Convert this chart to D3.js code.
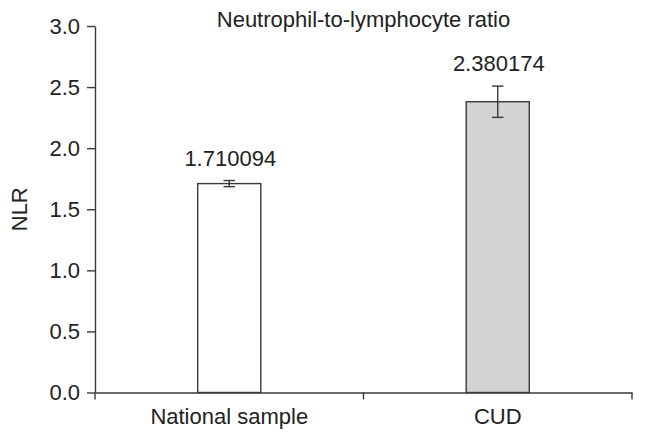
<!DOCTYPE html>
<html>
<head>
<meta charset="utf-8">
<script src="https://cdn.jsdelivr.net/npm/d3@7"></script>
<style>
  body { margin: 0; background: #fff; }
  svg text { font-family: "Liberation Sans", Arial, sans-serif; fill: #222; }
</style>
</head>
<body>
<div id="chart"></div>
<script>
// chart values
var groups = ["National sample", "CUD"];
var nlrMeans = [1.710094, 2.380174];
var nlrErrors = [0.025, 0.128];
var barLabels = ["1.710094", "2.380174"];
var yTicks = [0, 0.5, 1.0, 1.5, 2.0, 2.5, 3.0];
var barFills = ["#ffffff", "#d3d3d3"];

var chart = {
    svgWidth: 646,
    svgHeight: 441,
    margin: {"top": 26, "bottom": 48.5, "left": 95, "right": 14},
};
chart.chartWidth = chart.svgWidth - (chart.margin.left + chart.margin.right);
chart.chartHeight = chart.svgHeight - (chart.margin.top + chart.margin.bottom);

var data = groups.map((g, i) => ({
    group: g, mean: nlrMeans[i], err: nlrErrors[i],
    label: barLabels[i], fill: barFills[i]
}));

var svg = d3.select("#chart").append("svg")
    .attr("width", chart.svgWidth)
    .attr("height", chart.svgHeight);

var g = svg.append("g")
    .attr("transform", "translate(" + chart.margin.left + "," + chart.margin.top + ")");

var xScale = d3.scaleBand()
    .domain(groups)
    .range([0, chart.chartWidth])
    .padding(0);

var yScale = d3.scaleLinear()
    .domain([0, 3])
    .range([chart.chartHeight, 0]);

var barW = xScale.bandwidth() * 0.235;
var ink = "#3a3a3a";
var fontSize = "22px";

// y axis
var yAxis = d3.axisLeft(yScale)
    .tickValues(yTicks)
    .tickFormat(d3.format(".1f"))
    .tickSize(8)
    .tickSizeOuter(0)
    .tickPadding(7);

var yG = g.append("g").call(yAxis);
yG.select(".domain").attr("stroke", ink).attr("stroke-width", 1.4);
yG.selectAll(".tick line").attr("stroke", ink).attr("stroke-width", 1.4);
yG.selectAll(".tick text")
    .style("font-size", fontSize)
    .attr("fill", "#222");

// x axis: labels from band scale, ticks at the band edges
var xAxis = d3.axisBottom(xScale)
    .tickSize(0)
    .tickSizeOuter(0)
    .tickPadding(16);

var xG = g.append("g")
    .attr("transform", "translate(0," + chart.chartHeight + ")")
    .call(xAxis);
xG.select(".domain").attr("stroke", ink).attr("stroke-width", 1.4);
xG.selectAll(".tick text")
    .style("font-size", fontSize)
    .attr("fill", "#222");

var edges = groups.map(d => xScale(d)).concat([xScale(groups[groups.length - 1]) + xScale.bandwidth()]);
xG.selectAll("line.edge")
    .data(edges)
    .enter().append("line")
    .attr("class", "edge")
    .attr("x1", d => d).attr("x2", d => d)
    .attr("y1", 0).attr("y2", 7)
    .attr("stroke", ink)
    .attr("stroke-width", 1.4);

// bars
g.selectAll("rect.bar")
    .data(data)
    .enter().append("rect")
    .attr("class", "bar")
    .attr("x", d => xScale(d.group) + xScale.bandwidth() / 2 - barW / 2)
    .attr("y", d => yScale(d.mean))
    .attr("width", barW)
    .attr("height", d => chart.chartHeight - yScale(d.mean))
    .attr("fill", d => d.fill)
    .attr("stroke", ink)
    .attr("stroke-width", 1.4);

// error bars
var capW = 11.5;
var errs = g.selectAll("g.err")
    .data(data)
    .enter().append("g")
    .attr("class", "err")
    .attr("transform", d => "translate(" + (xScale(d.group) + xScale.bandwidth() / 2) + ",0)");

errs.append("line")
    .attr("x1", 0).attr("x2", 0)
    .attr("y1", d => yScale(d.mean + d.err))
    .attr("y2", d => yScale(d.mean - d.err))
    .attr("stroke", ink).attr("stroke-width", 1.4);
errs.append("line")
    .attr("x1", -capW / 2).attr("x2", capW / 2)
    .attr("y1", d => yScale(d.mean + d.err))
    .attr("y2", d => yScale(d.mean + d.err))
    .attr("stroke", ink).attr("stroke-width", 1.4);
errs.append("line")
    .attr("x1", -capW / 2).attr("x2", capW / 2)
    .attr("y1", d => yScale(d.mean - d.err))
    .attr("y2", d => yScale(d.mean - d.err))
    .attr("stroke", ink).attr("stroke-width", 1.4);

// value labels above error bars
errs.append("text")
    .attr("x", 1)
    .attr("y", d => yScale(d.mean + d.err) - 15)
    .attr("text-anchor", "middle")
    .style("font-size", fontSize)
    .text(d => d.label);

// title
svg.append("text")
    .attr("x", chart.margin.left + chart.chartWidth / 2)
    .attr("y", 27)
    .attr("text-anchor", "middle")
    .style("font-size", fontSize)
    .text("Neutrophil-to-lymphocyte ratio");

// y label
svg.append("text")
    .attr("transform", "translate(27," + (chart.margin.top + chart.chartHeight / 2) + ") rotate(-90)")
    .attr("text-anchor", "middle")
    .style("font-size", fontSize)
    .text("NLR");
</script>
</body>
</html>
